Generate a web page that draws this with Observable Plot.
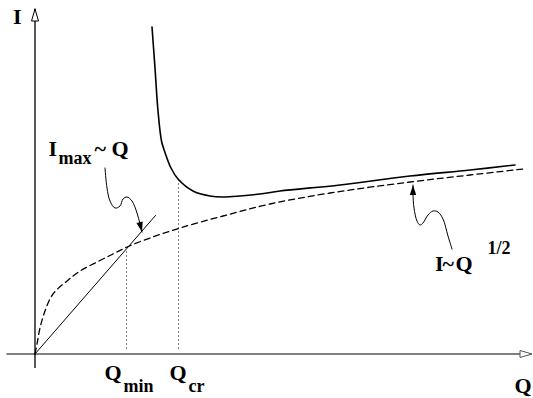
<!DOCTYPE html>
<html><head><meta charset="utf-8">
<script src="https://cdn.jsdelivr.net/npm/d3@7"></script>
<script src="https://cdn.jsdelivr.net/npm/@observablehq/plot@0.6"></script>
</head><body style="margin:0"><div id="chart"></div>
<script>
// Straight line I_max ~ Q
const linearQ = [0, 120.5];
const linearI = [0, 138.5];
// Dashed curve I ~ Q^(1/2)
const sqrtQ = [0, 2, 5, 10, 18, 32, 45, 62, 78, 92, 115, 145, 188, 235, 295, 375, 435, 488];
const sqrtI = [0, 10, 26, 43, 60, 73, 83, 92, 100, 107, 116, 126, 138, 150, 161, 172, 179, 185];
// Solid curve with steep rise near Q_cr
const crowdQ = [117, 120, 123, 126.5, 129.5, 136, 143, 158, 175, 188, 205, 225, 245, 305, 375, 435, 480];
const crowdI = [327, 286, 243, 213, 203, 186, 175, 163, 158, 157, 158, 160, 163, 169, 178, 184, 189];
// Dotted drop lines at Q_min and Q_cr
const dropQ = [91.5, 143.5];
const dropTop = [105, 175];
// Wavy annotation arrows
const wave1Q = [70, 72, 75, 80, 85, 88, 92, 97, 102, 105, 107];
const wave1I = [186, 166, 153, 146, 148, 155, 157, 153, 141, 130, 122];
const wave2Q = [417, 413, 408, 403, 398, 393, 388, 385, 382, 379, 378, 378];
const wave2I = [105, 118, 135, 142, 143, 139, 131, 129, 133, 146, 160, 169];
// Axes extents
const axisQ = [-28, 497];
const axisI = [-14.5, 345];
// Labels (anchor at baseline, left)
const bigText = ["I", "I", "~", "Q", "I", "~", "Q", "Q", "Q", "Q"];
const bigQ =    [-22, 13.5, 59.5, 76.5, 400, 407.5, 420.5, 69.5, 134.5, 479.5];
const bigI =    [330.5, 198.5, 198.5, 198.5, 83.5, 83.5, 83.5, -25.5, -25.5, -39];
const subText = ["max", "1/2", "min", "cr"];
const subQ =    [23.5, 452.5, 88.5, 153.5];
const subI =    [190.5, 100.5, -37.5, -37.5];

const zip = (qs, is) => qs.map((q, k) => ({q, i: is[k]}));
const tipOf = (qs, is) => {
  const n = qs.length;
  return {q: qs[n - 1], i: is[n - 1],
    a: Math.atan2(qs[n - 1] - qs[n - 2], is[n - 1] - is[n - 2]) * 180 / Math.PI};
};
const solidHead = {draw(c) { c.moveTo(0, 0); c.lineTo(-3.2, 10); c.lineTo(3.2, 10); c.closePath(); }};
const openHead = {draw(c) { c.moveTo(0, 0); c.lineTo(-3.5, 12); c.lineTo(3.5, 12); c.closePath(); }};

const chart = Plot.plot({
  width: 533, height: 398, margin: 0,
  style: {fontFamily: "Times New Roman"},
  x: {domain: [-34.5, 498.5], axis: null},
  y: {domain: [-44.5, 353.5], axis: null},
  marks: [
    Plot.ruleY([0], {x1: axisQ[0], x2: axisQ[1], stroke: "#555", strokeWidth: 1.6}),
    Plot.ruleX([0], {y1: axisI[0], y2: axisI[1], stroke: "black", strokeWidth: 1.3}),
    Plot.dot([{q: axisQ[1], i: 0}], {x: "q", y: "i", symbol: openHead, rotate: 90, fill: "white", stroke: "#555", strokeWidth: 1}),
    Plot.dot([{q: 0, i: axisI[1]}], {x: "q", y: "i", symbol: openHead, rotate: 0, fill: "white", stroke: "black", strokeWidth: 1}),
    Plot.ruleX(zip(dropQ, dropTop), {x: "q", y1: 5, y2: "i", stroke: "black", strokeWidth: 1, strokeDasharray: "1,3"}),
    Plot.line(zip(sqrtQ, sqrtI), {x: "q", y: "i", curve: "catmull-rom", stroke: "black", strokeWidth: 1.3, strokeDasharray: "6,4"}),
    Plot.line(zip(linearQ, linearI), {x: "q", y: "i", stroke: "black", strokeWidth: 1}),
    Plot.line(zip(crowdQ, crowdI), {x: "q", y: "i", curve: "catmull-rom", stroke: "black", strokeWidth: 1.6}),
    Plot.line(zip(wave1Q, wave1I), {x: "q", y: "i", curve: "catmull-rom", stroke: "black", strokeWidth: 1}),
    Plot.line(zip(wave2Q, wave2I), {x: "q", y: "i", curve: "catmull-rom", stroke: "black", strokeWidth: 1}),
    Plot.dot([tipOf(wave1Q, wave1I), tipOf(wave2Q, wave2I)], {x: "q", y: "i", rotate: "a", symbol: solidHead, fill: "black", stroke: "none"}),
    Plot.text(bigText, {x: (d, k) => bigQ[k], y: (d, k) => bigI[k], text: d => d, textAnchor: "start", lineAnchor: "bottom", fontSize: 22, fontWeight: "bold", fontFamily: "Times New Roman"}),
    Plot.text(subText, {x: (d, k) => subQ[k], y: (d, k) => subI[k], text: d => d, textAnchor: "start", lineAnchor: "bottom", fontSize: 18, fontWeight: "bold", fontFamily: "Times New Roman"})
  ]
});
document.getElementById("chart").appendChild(chart);
</script>
</body></html>
